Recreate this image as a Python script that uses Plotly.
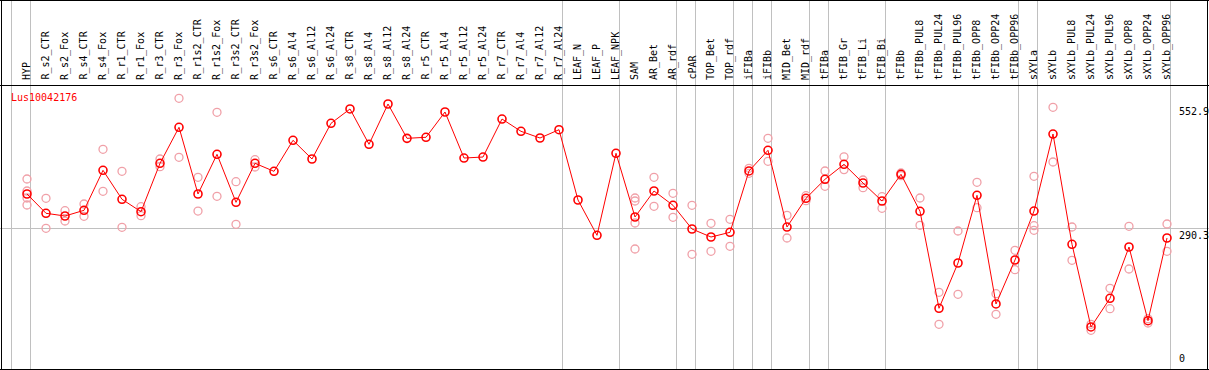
import plotly.graph_objects as go

gene_name = "Lus10042176"

categories = [
    "HYP", "R_s2_CTR", "R_s2_Fox", "R_s4_CTR", "R_s4_Fox", "R_r1_CTR", "R_r1_Fox",
    "R_r3_CTR", "R_r3_Fox", "R_r1s2_CTR", "R_r1s2_Fox", "R_r3s2_CTR", "R_r3s2_Fox",
    "R_s6_CTR", "R_s6_Al4", "R_s6_Al12", "R_s6_Al24", "R_s8_CTR", "R_s8_Al4",
    "R_s8_Al12", "R_s8_Al24", "R_r5_CTR", "R_r5_Al4", "R_r5_Al12", "R_r5_Al24",
    "R_r7_CTR", "R_r7_Al4", "R_r7_Al12", "R_r7_Al24", "LEAF_N", "LEAF_P", "LEAF_NPK",
    "SAM", "AR_Bet", "AR_rdf", "cPAR", "TOP_Bet", "TOP_rdf", "iFIBa", "iFIBb",
    "MID_Bet", "MID_rdf", "tFIBa", "tFIB_Gr", "tFIB_Li", "tFIB_Bi", "tFIBb",
    "tFIBb_PUL8", "tFIBb_PUL24", "tFIBb_PUL96", "tFIBb_OPP8", "tFIBb_OPP24",
    "tFIBb_OPP96", "sXYLa", "sXYLb", "sXYLb_PUL8", "sXYLb_PUL24", "sXYLb_PUL96",
    "sXYLb_OPP8", "sXYLb_OPP24", "sXYLb_OPP96",
]

mean_values = [
    362.8, 322.0, 316.3, 328.3, 412.8, 351.6, 325.4, 427.6, 503.7, 362.8, 446.6,
    345.2, 427.6, 410.7, 476.2, 436.7, 512.1, 542.4, 467.8, 552.9, 480.4, 482.6,
    536.0, 438.8, 440.9, 521.2, 495.2, 481.1, 498.6, 350.1, 275.5, 448.8, 314.2,
    369.1, 338.9, 288.8, 271.9, 281.8, 411.4, 455.1, 293.0, 353.7, 393.8, 425.5,
    386.0, 348.0, 404.4, 326.2, 121.3, 217.0, 360.0, 130.4, 223.3, 326.8, 489.5,
    256.5, 81.8, 142.4, 250.8, 95.1, 269.8,
]

replicate_values = [
    [394.5, 369.1, 354.3, 339.5], [353.7, 290.3], [327.5, 305.7], [341.6, 315.7],
    [457.2, 368.5], [410.7, 292.4], [335.9, 316.9], [436.7, 420.4], [565.0, 440.3],
    [398.0, 326.8], [535.4, 357.9], [388.8, 298.7], [435.2, 419.8],
    [], [], [], [], [], [], [], [], [], [], [], [], [], [], [], [], [], [], [],
    [354.3, 348.0, 301.5, 246.6], [398.0, 336.8], [364.2, 313.5], [338.9, 235.4],
    [300.9, 241.7], [309.3, 252.3], [417.1, 406.5], [480.4, 431.9], [317.8, 269.8],
    [359.2, 348.6], [411.4, 379.0], [441.4, 414.3], [392.3, 376.1], [357.1, 332.6],
    [407.1, 401.6], [354.3, 296.6], [155.1, 87.5], [284.6, 150.9], [387.5, 333.8],
    [152.1, 108.6], [243.8, 202.8], [400.2, 295.8, 286.1], [545.9, 430.4],
    [293.0, 222.7], [87.5, 74.8], [163.5, 120.4], [294.5, 204.3], [99.3, 90.2],
    [299.4, 241.7],
]

# last category index of each group (-1 = leading separator)
group_last_index = [-1, 0, 28, 31, 34, 35, 37, 38, 39, 41, 42, 45, 52, 53, 60]

y_tick_values = [552.9, 290.3, 0]
y_tick_labels = ["552.9", "290.3", "0"]
y_grid_values = [290.3]

W, H = 1209, 370
x0_px, x_step = 27, 19
y_zero_px, y_scale = 365.7, 0.4733
header_px = 85

idx = list(range(len(categories)))
rep_x = [i for i, reps in zip(idx, replicate_values) for _ in reps]
rep_y = [v for reps in replicate_values for v in reps]

fig = go.Figure()
fig.add_trace(go.Scatter(
    x=rep_x, y=rep_y, mode="markers",
    marker=dict(symbol="circle-open", size=8, color="#f0a0a8", line=dict(width=1.3)),
    hoverinfo="skip", showlegend=False,
))
fig.add_trace(go.Scatter(
    x=idx, y=mean_values, mode="lines+markers",
    line=dict(color="#ff0000", width=1),
    marker=dict(symbol="circle-open", size=8, color="#ff0000", line=dict(width=1.6)),
    showlegend=False,
))

mono = "DejaVu Sans Mono"
annotations = []
for i, name in zip(idx, categories):
    annotations.append(dict(
        x=i, xref="x", y=1 - (header_px - 3) / H, yref="paper",
        text=name, textangle=-90, showarrow=False,
        xanchor="center", yanchor="bottom",
        font=dict(family=mono, size=10, color="black"),
    ))
for v, lab in zip(y_tick_values, y_tick_labels):
    annotations.append(dict(
        x=1177 / W, xref="paper", y=v, yref="y", text=lab, showarrow=False,
        xanchor="left", yanchor="bottom" if v == 0 else "top",
        font=dict(family=mono, size=10, color="black"),
    ))
annotations.append(dict(
    x=9 / W, xref="paper", y=1 - 97 / H, yref="paper", text=gene_name,
    showarrow=False, xanchor="left", yanchor="middle",
    font=dict(family=mono, size=10, color="#ff0000"),
))

line_k = dict(color="black", width=1)
shapes = [
    dict(type="line", xref="paper", yref="paper", x0=0, x1=1, y0=1 - 0.5 / H, y1=1 - 0.5 / H, line=line_k),
    dict(type="line", xref="paper", yref="paper", x0=0, x1=1, y0=1 - (header_px + 0.5) / H, y1=1 - (header_px + 0.5) / H, line=line_k),
    dict(type="line", xref="paper", yref="paper", x0=0, x1=1, y0=0.5 / H, y1=0.5 / H, line=line_k),
    dict(type="line", xref="paper", yref="paper", x0=1.5 / W, x1=1.5 / W, y0=0, y1=1, line=line_k),
    dict(type="line", xref="paper", yref="paper", x0=1 - 1.5 / W, x1=1 - 1.5 / W, y0=0, y1=1, line=line_k),
]

x_min = -x0_px / x_step
x_max = (W - x0_px) / x_step
y_max = y_zero_px / y_scale
y_min = (y_zero_px - H) / y_scale

fig.update_layout(
    width=W, height=H, margin=dict(l=0, r=0, t=0, b=0),
    paper_bgcolor="white", plot_bgcolor="white",
    xaxis=dict(range=[x_min, x_max], tickvals=[b + 0.18 for b in group_last_index],
               showticklabels=False, showgrid=True, gridcolor="#c0c0c0", gridwidth=1,
               zeroline=False, showline=False, ticks=""),
    yaxis=dict(range=[y_min, y_max], tickvals=y_grid_values, showticklabels=False,
               showgrid=True, gridcolor="#c0c0c0", gridwidth=1, zeroline=False,
               showline=False, ticks=""),
    annotations=annotations, shapes=shapes,
)

fig.write_html(
    "out.html",
    config={"displayModeBar": False},
    post_script="document.body.style.margin='0';document.body.style.overflow='hidden';",
)
